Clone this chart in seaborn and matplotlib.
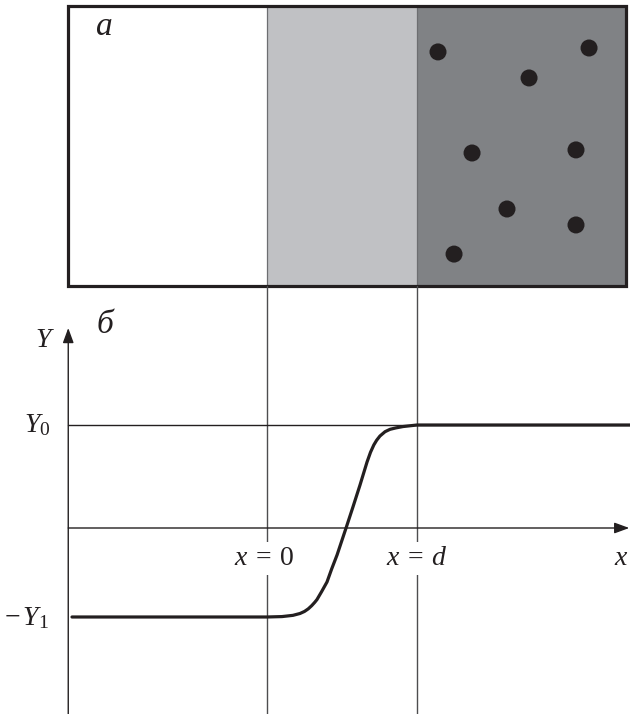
import matplotlib
matplotlib.use("Agg")
import matplotlib.pyplot as plt
from matplotlib.patches import Rectangle
import seaborn as sns
import pandas as pd

sns.set_style("white")
plt.rcParams["font.family"] = ["Liberation Serif", "DejaVu Serif"]
plt.rcParams["mathtext.fontset"] = "custom"
plt.rcParams["mathtext.rm"] = "Liberation Serif"
plt.rcParams["mathtext.it"] = "Liberation Serif:italic"

INK = "#231f20"
LIGHT = "#c0c1c4"
DARK = "#808285"

# layer boundaries (x = 0 and x = d, with d = 1) and the outer frame
x_left, x_right = -1.325, 2.393
layer_edges = [x_left, 0.0, 1.0, x_right]
layer_colors = ["white", LIGHT, DARK]

# particles in the dark layer (frame units: x shared, y from 0 to 1)
dots_x = [1.14, 2.147, 1.747, 1.367, 2.06, 1.60, 2.06, 1.247]
dots_y = [0.836, 0.850, 0.743, 0.475, 0.486, 0.275, 0.218, 0.114]

# levels
Y0 = 1.0
Y1 = 0.864

# profile Y(x)
profile_x = [-1.30, 0.0, 0.10, 0.173, 0.22, 0.25, 0.275, 0.298, 0.318, 0.333,
             0.364, 0.40, 0.431, 0.467, 0.527, 0.573, 0.62, 0.667, 0.69, 0.712,
             0.731, 0.753, 0.787, 0.82, 0.86, 0.907, 1.0, 2.42]
profile_y = [-0.864, -0.864, -0.860, -0.848, -0.830, -0.810, -0.785, -0.754,
             -0.722, -0.695, -0.618, -0.524, -0.398, -0.262, 0.0, 0.204, 0.417,
             0.641, 0.735, 0.806, 0.852, 0.893, 0.935, 0.958, 0.972, 0.985,
             1.0, 1.0]

W, H = 630, 714
fig = plt.figure(figsize=(W / 100, H / 100), dpi=100)
xlim = (-267 / 150, 363 / 150)

# ---- panel a: layered medium ----
ax_a = fig.add_axes([0, 1 - 286 / H, 1, 280 / H])
ax_a.set_xlim(*xlim)
ax_a.set_ylim(0, 1)
ax_a.axis("off")
for (l, r), c in zip(zip(layer_edges[:-1], layer_edges[1:]), layer_colors):
    ax_a.add_patch(Rectangle((l, 0), r - l, 1, facecolor=c, edgecolor="none", zorder=1))
for xe in layer_edges[1:3]:
    ax_a.plot([xe, xe], [0, 1], color="#6d6e71", lw=0.9, zorder=2)
sns.scatterplot(x=dots_x, y=dots_y, ax=ax_a, s=150, color=INK,
                edgecolor="none", zorder=3, legend=False)
ax_a.add_patch(Rectangle((x_left, 0), x_right - x_left, 1, facecolor="none",
                         edgecolor=INK, lw=2.3, zorder=4, clip_on=False))
ax_a.text(-1.087, 0.925, "а", fontsize=24, style="italic", ha="center",
          va="center", color=INK)

# ---- panel б: profile ----
ax_b = fig.add_axes([0, 0, 1, 428 / H])
ax_b.set_xlim(*xlim)
ax_b.set_ylim((528 - 714) / 103, (528 - 286) / 103)
ax_b.axis("off")
ylo, yhi = ax_b.get_ylim()

for xe in layer_edges[1:3]:
    ax_b.plot([xe, xe], [ylo, yhi], color="#4d4d4f", lw=1.0, zorder=1)
ax_b.plot([x_left, xlim[1]], [Y0, Y0], color=INK, lw=1.0, zorder=1)

head = "-|>,head_length=0.6,head_width=0.22"
ax_b.annotate("", xy=(x_left, (528 - 328) / 103), xytext=(x_left, ylo - 0.05),
              arrowprops=dict(arrowstyle=head, lw=1.0, color=INK,
                              mutation_scale=15, shrinkA=0, shrinkB=0),
              annotation_clip=False, zorder=2)
ax_b.annotate("", xy=(2.415, 0), xytext=(x_left, 0),
              arrowprops=dict(arrowstyle=head, lw=1.0, color=INK,
                              mutation_scale=15, shrinkA=0, shrinkB=0),
              annotation_clip=False, zorder=2)

profile = pd.DataFrame({"x": profile_x, "Y": profile_y})
sns.lineplot(data=profile, x="x", y="Y", ax=ax_b, sort=False, estimator=None,
             color=INK, lw=2.3, zorder=3)
ax_b.axis("off")

fs = 20
ax_b.text(-1.08, 1.971, "б", fontsize=24, style="italic", ha="center",
          va="center", color=INK)
ax_b.text(-1.48, 1.825, "$Y$", fontsize=fs, ha="center", va="center", color=INK)
ax_b.text(-1.445, 0.932, "$Y_0$", fontsize=fs, ha="right", va="baseline", color=INK)
ax_b.text(-1.455, -0.942, r"$-\,Y_1$", fontsize=fs, ha="right", va="baseline", color=INK)
box = dict(facecolor="white", edgecolor="none", pad=3)
ax_b.text(-0.02, -0.359, r"$x\:=\:0$", fontsize=fs, ha="center", va="baseline",
          color=INK, bbox=box, zorder=4)
ax_b.text(0.997, -0.359, r"$x\:=\:d$", fontsize=fs, ha="center", va="baseline",
          color=INK, bbox=box, zorder=4)
ax_b.text(2.36, -0.359, "$x$", fontsize=fs, ha="center", va="baseline", color=INK)

fig.savefig("out.png", dpi=100, facecolor="white")
